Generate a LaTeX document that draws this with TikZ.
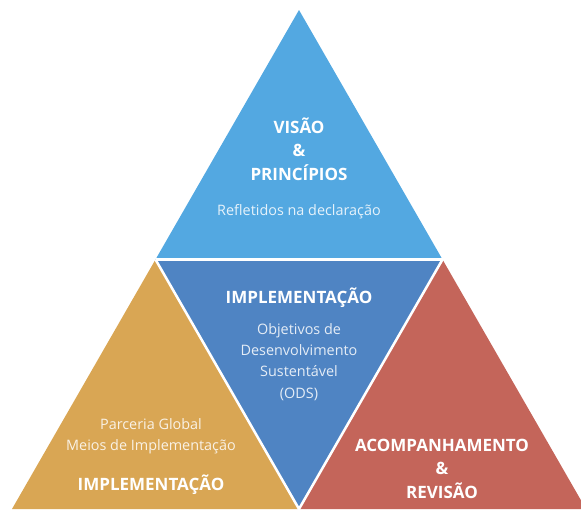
\documentclass[tikz,border=0pt]{standalone}
\usepackage{fontspec}
\setmainfont{Open Sans}
\usetikzlibrary{positioning}
\definecolor{visaoblue}{HTML}{53A8E1}
\definecolor{odsblue}{HTML}{4F84C3}
\definecolor{parcgold}{HTML}{D9A654}
\definecolor{acomred}{HTML}{C4655A}

\begin{document}
\begin{tikzpicture}[x=1pt,y=-1pt,
  head/.style={text=white,font=\bfseries\fontsize{17}{23.5}\selectfont,align=center,inner sep=0pt},
  note/.style={text=white,text opacity=0.85,font=\fontsize{14.4}{21.3}\selectfont,align=center,inner sep=0pt}]
\useasboundingbox (0,0) rectangle (581,509);
\clip (0,0) rectangle (581,509);
% corners of the pyramid
\coordinate (T) at (299,10);
\coordinate (L) at (155.5,259.5);
\coordinate (R) at (442.5,259.5);
\coordinate (BL) at (12,509);
\coordinate (BM) at (299,509);
\coordinate (BR) at (586,509);
\fill[visaoblue] (T) -- (R) -- (L) -- cycle;
\fill[odsblue] (L) -- (R) -- (BM) -- cycle;
\fill[parcgold] (L) -- (BM) -- (BL) -- cycle;
\fill[acomred] (R) -- (BR) -- (BM) -- cycle;
% white gaps
\draw[white,line width=3pt] (L) -- (R);
\draw[white,line width=2.5pt] (L) -- (BM) -- (R);

\node[head] (visao) at (299,149) {VISÃO\\\&\\PRINCÍPIOS};
\node[note] (refl) at (299,212) {Refletidos na declaração};
\node[head] (impl) at (299,297.5) {IMPLEMENTAÇÃO};
\node[note] (ods) at (299,362) {Objetivos de\\Desenvolvimento\\Sustentável\\(ODS)};
\node[note] (parc) at (151,436) {Parceria Global\\Meios de Implementação};
\node[head] (implb) at (151,484.5) {IMPLEMENTAÇÃO};
\node[head] (acom) at (442,468.5) {ACOMPANHAMENTO\\\&\\REVISÃO};
\end{tikzpicture}
\end{document}
